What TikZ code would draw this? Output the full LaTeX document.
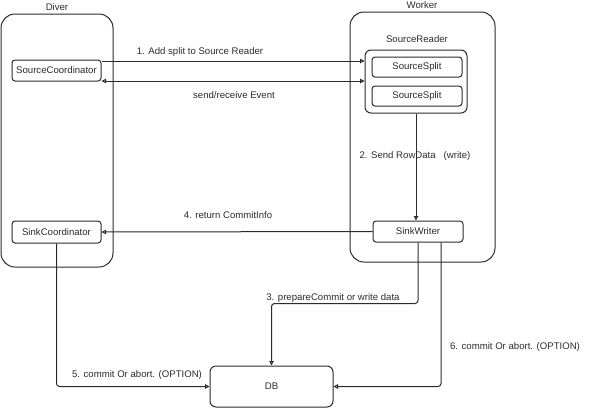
\documentclass[tikz,border=0pt]{standalone}
\usepackage{fontspec}
\setmainfont{Liberation Sans}
\usetikzlibrary{arrows.meta}
\definecolor{ink}{HTML}{2B2B2B}
\begin{document}
\begin{tikzpicture}[x=1pt,y=-1pt,
  font=\fontsize{9.6}{11}\selectfont, text=ink,
  box/.style={draw=ink, line width=1pt, fill=white, rounded corners=3pt, inner sep=0pt},
  group/.style={draw=ink, line width=1pt, rounded corners=14pt, inner sep=0pt},
  arr/.style={draw=ink, line width=1pt, -{Triangle[open,length=4.5pt,width=4.5pt]}},
  darr/.style={draw=ink, line width=1pt, {Triangle[open,length=4.5pt,width=4.5pt]}-{Triangle[open,length=4.5pt,width=4.5pt]}},
  lbl/.style={inner sep=0pt}]
\useasboundingbox (0,0) rectangle (589,408);
% groups
\node[group, minimum width=112pt, minimum height=253pt] (diver) at (57,140.5) {};
\node[group, minimum width=145pt, minimum height=250pt] (worker) at (422.5,137) {};
\node[lbl] (divert) at (57,7) {Diver};
\node[lbl] (workert) at (422,5) {Worker};
\node[lbl] (readert) at (417,39) {SourceReader};
\node[box, rounded corners=6pt, minimum width=102pt, minimum height=63pt] (reader) at (416,81.5) {};
\node[box, minimum width=90pt, minimum height=20pt] (split1) at (417,67) {SourceSplit};
\node[box, minimum width=90pt, minimum height=20pt] (split2) at (417,96) {SourceSplit};
\node[box, minimum width=89pt, minimum height=21pt] (srccoord) at (56.5,70.5) {SourceCoordinator};
\node[box, minimum width=89pt, minimum height=22pt] (sinkcoord) at (56.5,232) {SinkCoordinator};
\node[box, minimum width=90pt, minimum height=21pt] (sinkwriter) at (418,231.5) {SinkWriter};
\node[box, rounded corners=6pt, minimum width=123pt, minimum height=41pt] (db) at (271.5,386.5) {DB};
% connectors
\coordinate (a1) at ([yshift=9.5pt]srccoord.east);
\draw[arr] (a1) -- (a1 -| reader.west);
\coordinate (a2) at ([yshift=-10.5pt]srccoord.east);
\draw[darr] (a2) -- (a2 -| reader.west);
\draw[arr] (reader.south) -- (reader.south |- sinkwriter.north);
\draw[arr] (sinkwriter.west) -- (sinkcoord.east);
\draw[arr, rounded corners=3pt] (sinkwriter.south) -- ++(0,61) -| (db.north);
\coordinate (a6) at ([xshift=23pt]sinkwriter.south);
\draw[arr, rounded corners=3pt] (a6) |- (db.east);
\draw[arr, rounded corners=3pt] (sinkcoord.south) |- (db.west);
% labels
\node[lbl] (l1) at (200,52) {1. Add split to Source Reader};
\node[lbl] (l2) at (234,95) {send/receive Event};
\node[lbl] (l3) at (415,156) {2. Send RowData\ \ \ (write)};
\node[lbl] (l4) at (228,215) {4. return CommitInfo};
\node[lbl] (l5) at (333,298) {3. prepareCommit or write data};
\node[lbl] (l6) at (137,375) {5. commit Or abort. (OPTION)};
\node[lbl] (l7) at (515,347) {6. commit Or abort. (OPTION)};
\end{tikzpicture}
\end{document}
